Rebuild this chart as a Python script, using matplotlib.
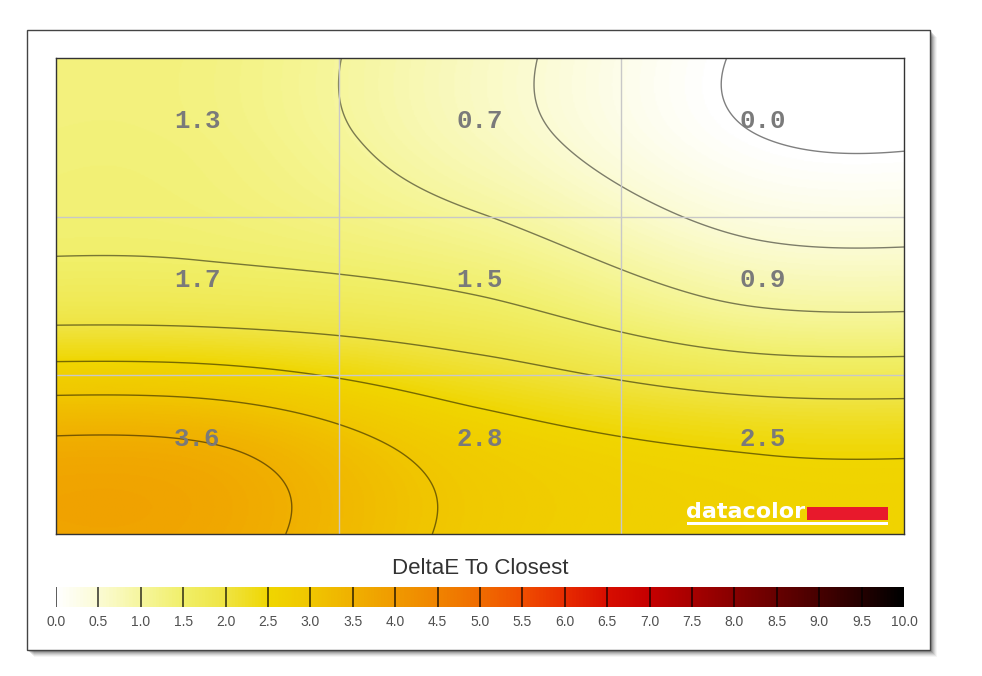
import numpy as np
import matplotlib
matplotlib.use("Agg")
import matplotlib.pyplot as plt
from matplotlib.colors import LinearSegmentedColormap
from matplotlib.patches import Rectangle

# ---------------- data ----------------
row_top = [1.3, 0.7, 0.0]
row_middle = [1.7, 1.5, 0.9]
row_bottom = [3.6, 2.8, 2.5]
cell_values = np.array([row_top, row_middle, row_bottom])

title_text = "DeltaE To Closest"
cbar_ticks = [0.0, 0.5, 1.0, 1.5, 2.0, 2.5, 3.0, 3.5, 4.0, 4.5, 5.0,
              5.5, 6.0, 6.5, 7.0, 7.5, 8.0, 8.5, 9.0, 9.5, 10.0]
cbar_labels = ["0.0", "0.5", "1.0", "1.5", "2.0", "2.5", "3.0", "3.5", "4.0",
               "4.5", "5.0", "5.5", "6.0", "6.5", "7.0", "7.5", "8.0", "8.5",
               "9.0", "9.5", "10.0"]
cmap_colors = ["#ffffff", "#fbfbd2", "#f6f69c", "#f1ef68", "#efe442", "#f0d600",
               "#f0c600", "#f0b000", "#f09a00", "#f08400", "#f06c00", "#f04e00",
               "#e82c00", "#d80e00", "#c60000", "#a80000", "#880000", "#680000",
               "#480000", "#260000", "#000000"]

# ---------------- helpers ----------------
W, H = 982, 676
def fx(px):
    return px / W
def fy(py):
    return 1 - py / H

cmap = LinearSegmentedColormap.from_list(
    "dE", [(t / 10.0, c) for t, c in zip(cbar_ticks, cmap_colors)])

def catmull_rom(vals, u):
    """Bicubic-style (Catmull-Rom) resampling along last axis, clamp-to-edge."""
    pad = np.concatenate([vals[..., :1]] * 2 + [vals] + [vals[..., -1:]] * 2, axis=-1)
    i = np.floor(u).astype(int)
    t = u - i
    idx = i + 2
    w = [(-t**3 + 2*t**2 - t) / 2,
         (3*t**3 - 5*t**2 + 2) / 2,
         (-3*t**3 + 4*t**2 + t) / 2,
         (t**3 - t**2) / 2]
    out = 0
    for k, wk in zip(range(-1, 3), w):
        out = out + wk * pad[..., idx + k]
    return out

# smooth surface resampled from the 3x3 measurements (at the cell centres)
xs = np.linspace(0, 3, 600)
ys = np.linspace(0, 3, 420)
A = catmull_rom(cell_values, xs - 0.5)          # (3, nx)
Z = catmull_rom(A.T, ys - 0.5).T                # (ny, nx)

# ---------------- figure ----------------
fig = plt.figure(figsize=(W / 100, H / 100), dpi=100)
fig.patch.set_facecolor("white")

# outer frame with drop shadow
for k, a in zip(range(7, 0, -1), [0.04, 0.06, 0.08, 0.10, 0.13, 0.16, 0.2]):
    fig.patches.append(Rectangle((fx(27 + k), fy(650 + k)), fx(903), 620 / H,
                                 transform=fig.transFigure, facecolor="#000000",
                                 edgecolor="none", alpha=a, zorder=0))
fig.patches.append(Rectangle((fx(27), fy(650)), fx(903), 620 / H,
                             transform=fig.transFigure, facecolor="white",
                             edgecolor="#444444", linewidth=1.0, zorder=1))

ax = fig.add_axes([fx(56), fy(534), fx(904) - fx(56), fy(58) - fy(534)])
ax.set_zorder(2)
ax.imshow(Z, extent=[0, 3, 3, 0], cmap=cmap, vmin=0, vmax=10, aspect="auto",
          interpolation="bilinear", origin="upper")
ax.contour(xs, ys, Z, levels=cbar_ticks, colors="k", alpha=0.5, linewidths=1.0)
for g in (1, 2):
    ax.axvline(g, color="#c8c8c8", lw=1.0)
    ax.axhline(g, color="#c8c8c8", lw=1.0)
ax.set_xlim(0, 3)
ax.set_ylim(3, 0)
ax.set_xticks([])
ax.set_yticks([])
for s in ax.spines.values():
    s.set_color("#333333")
    s.set_linewidth(1.0)

for r in range(3):
    for c in range(3):
        ax.text(c + 0.5, r + 0.4, f"{cell_values[r, c]:.1f}", ha="center", va="center",
                fontsize=18.5, fontweight="bold", family="Liberation Mono", color="#7a7a7a")

# datacolor logo
fig.text(fx(686), fy(518), "datacolor", color="white", fontsize=16, fontweight="bold",
         family="DejaVu Sans", ha="left", va="baseline", zorder=5)
fig.patches.append(Rectangle((fx(807), fy(520)), fx(81), 13 / H, transform=fig.transFigure,
                             facecolor="#e8192c", edgecolor="none", zorder=5))
fig.patches.append(Rectangle((fx(687), fy(524.5)), fx(201), 2.2 / H, transform=fig.transFigure,
                             facecolor="white", edgecolor="none", zorder=5))

# colour bar
cax = fig.add_axes([fx(56), fy(607), fx(904) - fx(56), 20 / H])
cax.set_zorder(2)
grad = np.linspace(0, 10, 1000)[None, :]
cax.imshow(grad, extent=[0, 10, 0, 1], cmap=cmap, vmin=0, vmax=10, aspect="auto")
cax.vlines(cbar_ticks[:-1], 0, 1, colors="k", alpha=0.75, linewidth=1.2)
cax.set_xlim(0, 10)
cax.set_ylim(0, 1)
cax.set_yticks([])
cax.set_xticks(cbar_ticks, cbar_labels)
cax.tick_params(axis="x", length=0, pad=6, labelsize=10, labelcolor="#505050")
for lab in cax.get_xticklabels():
    lab.set_family("Liberation Sans")
for s in cax.spines.values():
    s.set_visible(False)

fig.text(fx(480), fy(569), title_text, ha="center", va="center", fontsize=16,
         family="Liberation Sans", color="#333333")

fig.savefig("out.png", dpi=100, facecolor="white")
